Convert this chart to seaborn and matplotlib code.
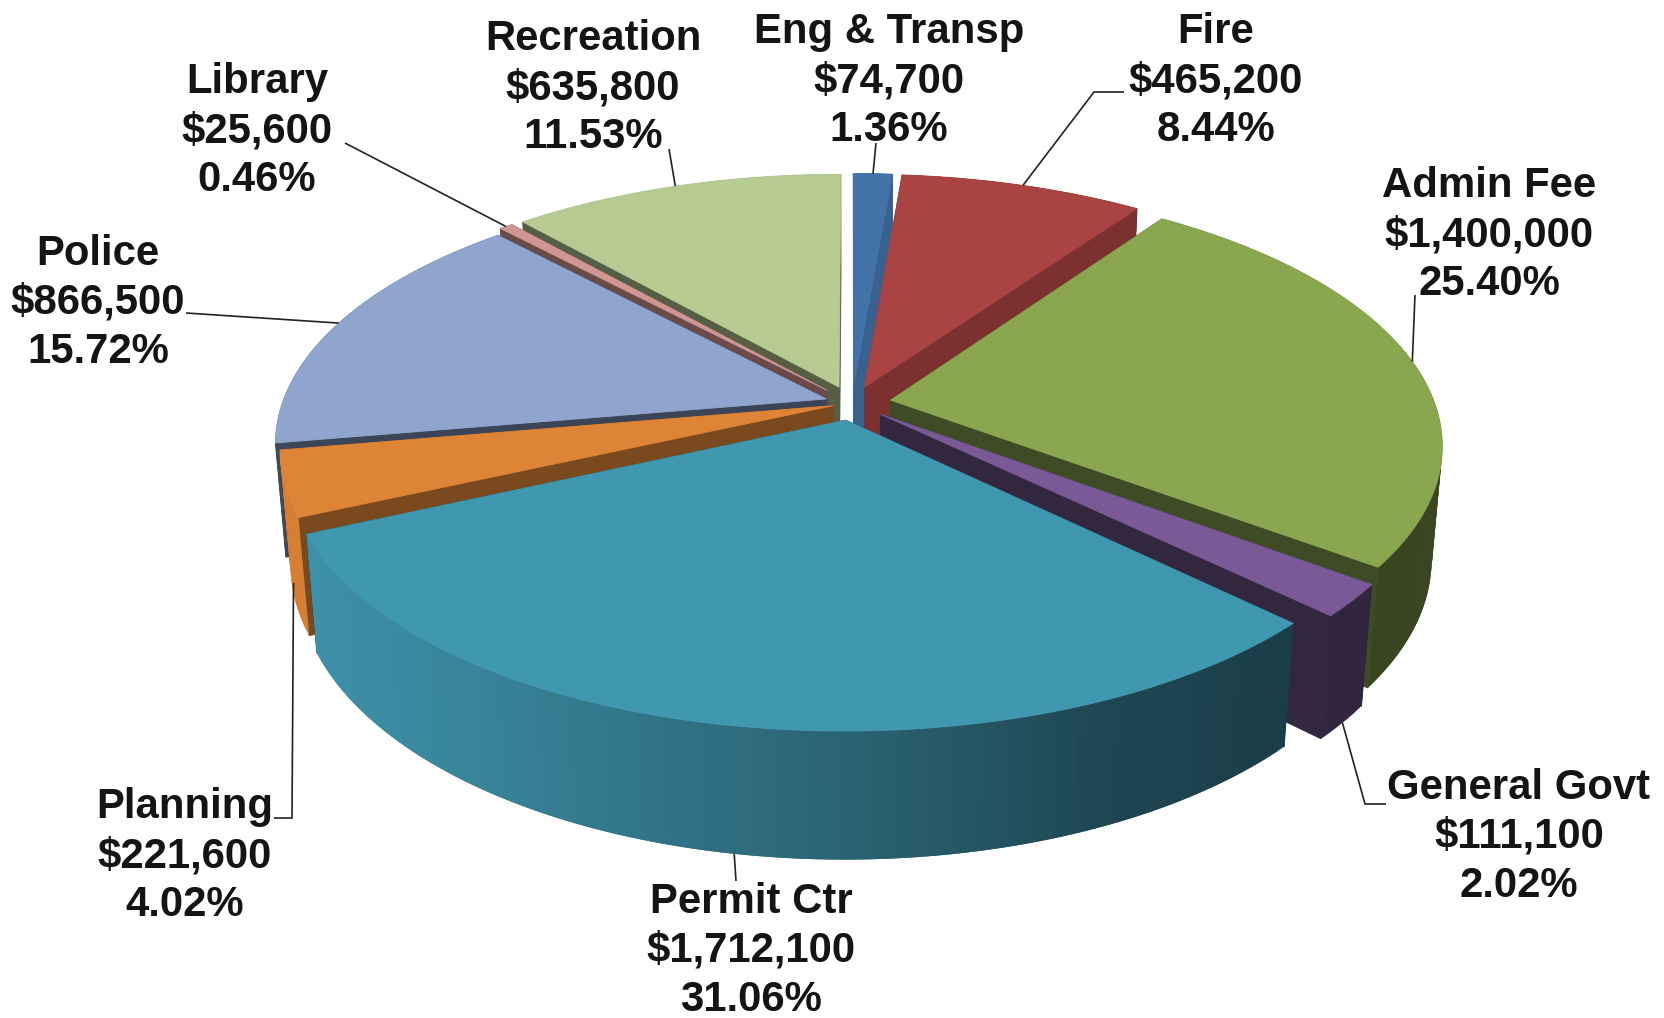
import matplotlib
matplotlib.use("Agg")
import matplotlib.pyplot as plt
import numpy as np
import seaborn as sns

categories = ["Eng & Transp", "Fire", "Admin Fee", "General Govt", "Permit Ctr",
              "Planning", "Police", "Library", "Recreation"]
amounts = [74700, 465200, 1400000, 111100, 1712100, 221600, 866500, 25600, 635800]
percents = [1.36, 8.44, 25.40, 2.02, 31.06, 4.02, 15.72, 0.46, 11.53]

top_colors = ["#4272a8", "#aa4443", "#8aa64f", "#7a5a96", "#4097b0",
              "#de8436", "#90a5ce", "#d09693", "#b6cb92"]
face_shade = [0.85, 0.72, 0.45, 0.42, 0.42, 0.55, 0.42, 0.5, 0.47]
wall_scale = [1, 1, 1, 1, 1, 1, 0.45, 1, 1]
explode = [0.068, 0.068, 0.072, 0.068, 0.068, 0.036, 0.05, 0.068, 0.068]

# label centre (x, first line y), in figure pixels
label_pos = [(889, 32), (1216, 32), (1489, 186), (1519, 788), (751, 902),
             (185, 807), (98, 254), (257, 82), (593, 39)]
# leader line points from the label side, the pie end comes from the slice
leader_pts = [[(876, 143)], [(1124, 92), (1094, 92)], [(1415, 295)],
              [(1386, 804), (1365, 804)], [(736, 881)], [(274, 818), (292, 818)],
              [(186, 313)], [(345, 143)], [(669, 149)]]
leader_depth = [0, 0, 0, 1, 1, 0.85, 0, 0, 0]

# fake 3d projection of the pie
CX, CY = 852, 403
RX, RY = 544, 253
H = 114
PERSP = 0.166
SHRINK = 0.018

sns.set_theme(style="white")
plt.rcParams["font.family"] = ["Liberation Sans", "DejaVu Sans"]


def project(u, v, w=0.0):
    s = 1 / (1 + PERSP * v + SHRINK * w)
    return CX + RX * u * s, CY - RY * v * s + H * w * s


def shade(color, f):
    return tuple(np.array(matplotlib.colors.to_rgb(color)) * f)


def wall_factor(u):
    return np.interp(u, [-1, -0.6, 0, 0.4, 0.7, 1], [0.98, 0.88, 0.66, 0.47, 0.41, 0.42])


fig = plt.figure(figsize=(16.65, 10.18), dpi=100)
ax = fig.add_axes([0, 0, 1, 1])
ax.set_xlim(0, 1665)
ax.set_ylim(1018, 0)
sns.despine(ax=ax, left=True, bottom=True)
ax.set_xticks([])
ax.set_yticks([])

edges = np.cumsum([0] + amounts) / sum(amounts) * 2 * np.pi
mids = (edges[:-1] + edges[1:]) / 2


def poly(points, color, lw=0.6):
    xs, ys = zip(*points)
    if lw:
        ax.fill(xs, ys, facecolor=color, edgecolor=color, linewidth=lw)
    else:
        ax.fill(xs, ys, facecolor=color, edgecolor="none")


for i in np.argsort(-np.cos(mids)):
    a0, a1 = edges[i], edges[i + 1]
    ou, ov = explode[i] * np.sin(mids[i]), explode[i] * np.cos(mids[i])
    thetas = np.linspace(a0, a1, max(int((a1 - a0) * 60), 4))
    us = ou + np.sin(thetas)
    vs = ov + np.cos(thetas)

    # each wall piece runs under the next one so no seams show
    segs = []
    for k in range(len(thetas) - 1):
        k2 = min(k + 2, len(thetas) - 1)
        quad = [project(us[k], vs[k]), project(us[k2], vs[k2]),
                project(us[k2], vs[k2], 1), project(us[k], vs[k], 1)]
        t = (thetas[k] + thetas[k + 1]) / 2
        segs.append((quad, t))

    # rear wall pieces first, cut faces over them, front wall pieces after
    for quad, t in segs:
        if np.cos(t) >= 0:
            poly(quad, shade(top_colors[i], wall_factor(np.sin(t)) * wall_scale[i]), lw=0)
    for u_e, v_e in [(us[0], vs[0]), (us[-1], vs[-1])]:
        poly([project(ou, ov), project(u_e, v_e), project(u_e, v_e, 1), project(ou, ov, 1)],
             shade(top_colors[i], face_shade[i]))
    for quad, t in segs:
        if np.cos(t) < 0:
            poly(quad, shade(top_colors[i], wall_factor(np.sin(t)) * wall_scale[i]), lw=0)

    poly([project(ou, ov)] + [project(u, v) for u, v in zip(us, vs)], top_colors[i])

for i, name in enumerate(categories):
    x, y = label_pos[i]
    lines = [name, f"${amounts[i]:,}", f"{percents[i]:.2f}%"]
    for j, line in enumerate(lines):
        ax.text(x, y + j * 49, line, ha="center", va="center", fontsize=30.2,
                fontweight="bold", color="#141414")

    end = project(explode[i] * np.sin(mids[i]) + np.sin(mids[i]),
                  explode[i] * np.cos(mids[i]) + np.cos(mids[i]), leader_depth[i])
    xs, ys = zip(*(leader_pts[i] + [end]))
    ax.plot(xs, ys, color="#222222", linewidth=1.2, solid_capstyle="butt")

fig.savefig("out.png", dpi=100, facecolor="white")
